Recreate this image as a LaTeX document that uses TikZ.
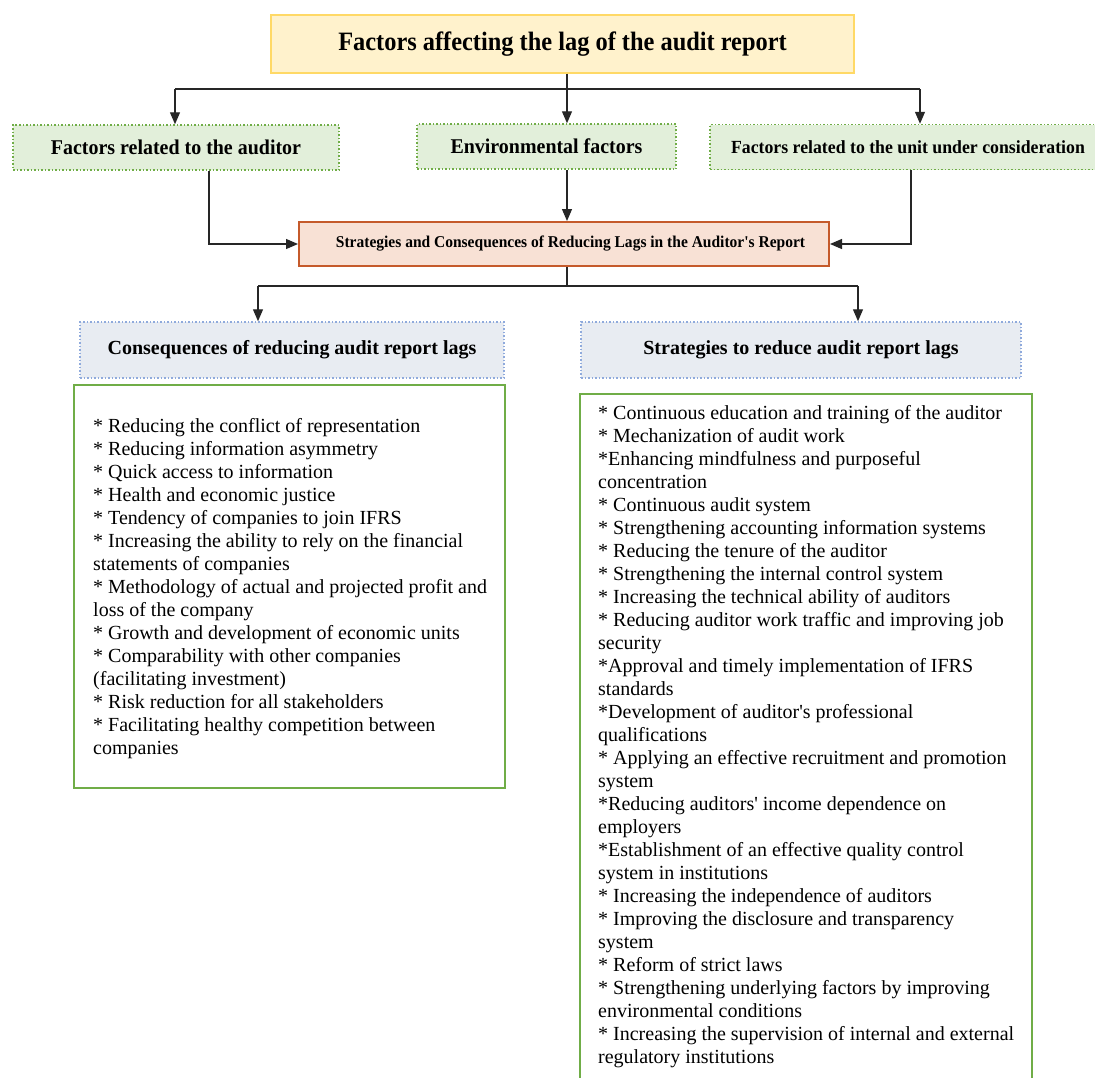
\documentclass[tikz,border=0pt]{standalone}
\usepackage{fontspec}
\setmainfont{Liberation Serif}
\usetikzlibrary{arrows.meta}
\definecolor{topfill}{HTML}{FFF2CC}
\definecolor{topdraw}{HTML}{FFD966}
\definecolor{grfill}{HTML}{E2EFDA}
\definecolor{grdraw}{HTML}{70AD47}
\definecolor{safill}{HTML}{F8E1D5}
\definecolor{sadraw}{HTML}{C55A2B}
\definecolor{blfill}{HTML}{E8ECF2}
\definecolor{bldraw}{HTML}{8FAADC}
\definecolor{lncol}{HTML}{262626}
\newcommand{\condtext}[2]{\scalebox{#1}[1]{#2}}
\newcommand{\sq}{\textquotesingle}
\tikzset{
  topbox/.style={draw=topdraw, fill=topfill, line width=1.2pt, minimum width=583pt, minimum height=58pt, inner sep=0pt, font=\fontsize{26.5}{30}\selectfont\bfseries},
  grbox/.style={draw=grdraw, fill=grfill, line width=1.5pt, dotted, minimum height=45pt, inner sep=0pt, font=\fontsize{21}{25}\selectfont\bfseries},
  sabox/.style={draw=sadraw, fill=safill, line width=2pt, minimum width=530pt, minimum height=44pt, inner sep=0pt, font=\fontsize{16.5}{20}\selectfont\bfseries},
  blbox/.style={draw=bldraw, fill=blfill, line width=1.5pt, dotted, minimum height=56pt, inner sep=0pt, font=\fontsize{20}{24}\selectfont\bfseries},
  listbox/.style={draw=grdraw, line width=2pt, inner sep=0pt},
  listtext/.style={anchor=north west, inner sep=0pt, align=left, font=\fontsize{20}{23}\selectfont},
  conn/.style={draw=lncol, line width=1.2pt},
  arr/.style={conn, -{Triangle[length=12pt,width=10pt]}}
}
\begin{document}
\begin{tikzpicture}[x=1pt,y=-1pt]
\clip (0,0) rectangle (1095,1077);
\fill[white] (0,0) rectangle (1095,1077);
% boxes
\node[topbox] (top) at (562.5,44) {\condtext{0.92}{Factors affecting the lag of the audit report}};
\node[grbox, minimum width=326pt] (audf) at (176,147.5) {\condtext{0.95}{Factors related to the auditor}};
\node[grbox, minimum width=259pt] (envf) at (546.5,146.5) {\condtext{0.95}{Environmental factors}};
\node[grbox, minimum width=390pt, font=\fontsize{18.5}{22}\selectfont\bfseries] (unitf) at (905,147) {\hspace*{6pt}\condtext{0.96}{Factors related to the unit under consideration}};
\node[sabox] (strat) at (564,244) {\hspace*{13pt}\condtext{0.94}{Strategies and Consequences of Reducing Lags in the Auditor\sq s Report}};
\node[blbox, minimum width=424pt] (cons) at (292,350) {Consequences of reducing audit report lags};
\node[blbox, minimum width=440pt] (strg) at (801,350) {Strategies to reduce audit report lags};
\node[listbox, minimum width=431pt, minimum height=403pt] (consbox) at (289.5,586.5) {};
\coordinate (sbtl) at (580,394);
\coordinate (sbtr) at (1032,394);
\fill[white] (sbtl) rectangle (1032,1090);
\draw[draw=grdraw, line width=2pt] (580,1090) -- (sbtl) -- (sbtr) -- (1032,1090);
% texts
\node[listtext] (constext) at (93,416) {\strut* Reducing the conflict of representation\\
* Reducing information asymmetry\\
* Quick access to information\\
* Health and economic justice\\
* Tendency of companies to join IFRS\\
* Increasing the ability to rely on the financial\\
statements of companies\\
* Methodology of actual and projected profit and\\
loss of the company\\
* Growth and development of economic units\\
* Comparability with other companies\\
(facilitating investment)\\
* Risk reduction for all stakeholders\\
* Facilitating healthy competition between\\
companies};
\node[listtext] (strgtext) at (598,403) {\strut* Continuous education and training of the auditor\\
* Mechanization of audit work\\
*Enhancing mindfulness and purposeful\\
concentration\\
* Continuous audit system\\
* Strengthening accounting information systems\\
* Reducing the tenure of the auditor\\
* Strengthening the internal control system\\
* Increasing the technical ability of auditors\\
* Reducing auditor work traffic and improving job\\
security\\
*Approval and timely implementation of IFRS\\
standards\\
*Development of auditor\sq s professional\\
qualifications\\
* Applying an effective recruitment and promotion\\
system\\
*Reducing auditors\sq{} income dependence on\\
employers\\
*Establishment of an effective quality control\\
system in institutions\\
* Increasing the independence of auditors\\
* Improving the disclosure and transparency\\
system\\
* Reform of strict laws\\
* Strengthening underlying factors by improving\\
environmental conditions\\
* Increasing the supervision of internal and external\\
regulatory institutions};
% connectors
\coordinate (j1) at (567,89);
\coordinate (jl) at (175,89);
\coordinate (jr) at (920,89);
\draw[conn] (top.south -| j1) -- (j1);
\draw[conn] (jl) -- (jr);
\draw[arr] (jl) -- (jl |- audf.north);
\draw[arr] (j1) -- (j1 |- envf.north);
\draw[arr] (jr) -- (jr |- unitf.north);
\draw[arr] ([xshift=33pt]audf.south) |- (strat.west);
\draw[arr] (envf.south -| j1) -- (strat.north -| j1);
\draw[arr] ([xshift=6pt]unitf.south) |- (strat.east);
\coordinate (j2) at (567,286);
\coordinate (cl) at (258,286);
\coordinate (cr) at (858,286);
\draw[conn] (strat.south -| j2) -- (j2);
\draw[conn] (cl) -- (cr);
\draw[arr] (cl) -- (cl |- cons.north);
\draw[arr] (cr) -- (cr |- strg.north);
\end{tikzpicture}
\end{document}
